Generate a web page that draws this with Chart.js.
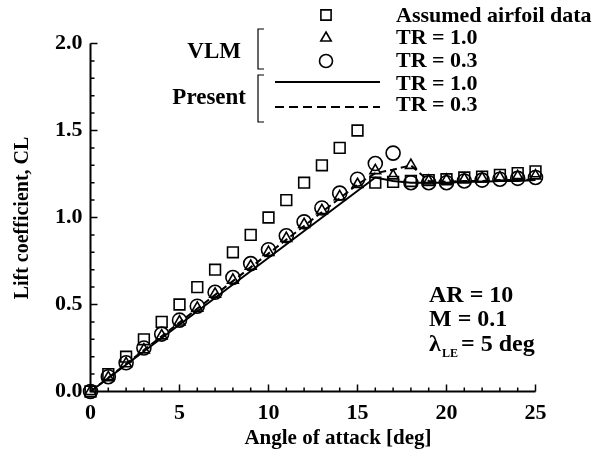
<!DOCTYPE html>
<html>
<head>
<meta charset="utf-8">
<script src="https://cdn.jsdelivr.net/npm/chart.js@4.4.1/dist/chart.umd.min.js"></script>
<style>
  html, body { margin: 0; padding: 0; background: #fff; }
  #wrap { width: 599px; height: 459px; }
</style>
</head>
<body>
<div id="wrap"><canvas id="cv" width="599" height="459"></canvas></div>
<script>
// angle of attack [deg] for the marker series
var alpha = [0, 1, 2, 3, 4, 5, 6, 7, 8, 9, 10, 11, 12, 13, 14, 15, 16, 17, 18, 19, 20, 21, 22, 23, 24, 25];
// assumed airfoil data (squares)
var clAirfoil = [0, 0.10, 0.20, 0.30, 0.40, 0.50, 0.60, 0.70, 0.80, 0.90, 1.00, 1.10, 1.20, 1.30, 1.40, 1.50,
                 1.20, 1.205, 1.21, 1.215, 1.22, 1.23, 1.235, 1.245, 1.255, 1.265];
// VLM, TR = 1.0 (triangles)
var clVlm10 = [0, 0.08, 0.16, 0.24, 0.32, 0.40, 0.48, 0.56, 0.64, 0.72, 0.80, 0.88, 0.96, 1.04, 1.12, 1.19,
               1.27, 1.24, 1.30, 1.21, 1.215, 1.22, 1.225, 1.23, 1.235, 1.24];
// VLM, TR = 0.3 (circles)
var clVlm03 = [0, 0.085, 0.165, 0.25, 0.33, 0.41, 0.49, 0.57, 0.655, 0.735, 0.815, 0.895, 0.975, 1.055, 1.14, 1.22,
               1.31, 1.37, 1.20, 1.20, 1.20, 1.21, 1.215, 1.22, 1.225, 1.23];
// present method, TR = 1.0 (solid line)
var alphaPres10 = [0, 16, 17, 18, 19, 20, 21, 22, 23, 24, 25];
var clPres10 = [0, 1.23, 1.21, 1.20, 1.20, 1.20, 1.205, 1.205, 1.21, 1.21, 1.215];
// present method, TR = 0.3 (dashed line)
var alphaPres03 = [0, 15, 16, 17, 18, 19, 20, 21, 22, 23, 24, 25];
var clPres03 = [0, 1.19, 1.255, 1.275, 1.30, 1.21, 1.205, 1.21, 1.21, 1.215, 1.215, 1.22];

var xTicks = [0, 5, 10, 15, 20, 25];
var yTicks = [0, 0.5, 1.0, 1.5, 2.0];

var FONT = '"Liberation Serif", "Times New Roman", serif';

function pts(xs, ys) {
  var out = [];
  for (var i = 0; i < xs.length; i++) out.push({x: xs[i], y: ys[i]});
  return out;
}

function hollow(ctx, style, r, x, y) {
  ctx.save();
  ctx.fillStyle = 'rgba(0,0,0,0)';
  ctx.strokeStyle = '#000';
  ctx.lineWidth = 1.6;
  Chart.helpers.drawPoint(ctx, {pointStyle: style, radius: r, borderWidth: 1.6}, x, y);
  ctx.restore();
}

var decorPlugin = {
  id: 'decor',
  afterDraw: function(chart) {
    var ctx = chart.ctx, xs = chart.scales.x, ys = chart.scales.y;
    var x0 = xs.getPixelForValue(0), x1 = xs.getPixelForValue(25);
    var y0 = ys.getPixelForValue(0), y1 = ys.getPixelForValue(2);
    ctx.save();
    ctx.strokeStyle = '#000';
    ctx.fillStyle = '#000';
    ctx.lineWidth = 2;
    ctx.beginPath();
    ctx.moveTo(x0, y1); ctx.lineTo(x0, y0); ctx.lineTo(x1, y0);
    ctx.stroke();
    // inward ticks
    ctx.lineWidth = 1.5;
    ctx.beginPath();
    for (var a = 0; a <= 25; a++) {
      var px = xs.getPixelForValue(a);
      var len = (a % 5 === 0) ? 7 : 4;
      ctx.moveTo(px, y0); ctx.lineTo(px, y0 - len);
    }
    for (var k = 0; k <= 20; k++) {
      var py = ys.getPixelForValue(k / 10);
      var ln = (k % 5 === 0) ? 7 : 4;
      ctx.moveTo(x0, py); ctx.lineTo(x0 + ln, py);
    }
    ctx.stroke();

    // axis titles
    ctx.font = 'bold 21px ' + FONT;
    ctx.textAlign = 'center';
    ctx.textBaseline = 'middle';
    ctx.fillText('Angle of attack [deg]', 338, 439);
    ctx.save();
    ctx.translate(23, 218);
    ctx.rotate(-Math.PI / 2);
    ctx.font = 'bold 20px ' + FONT;
    ctx.fillText('Lift coefficient, CL', 0, 0);
    ctx.restore();

    // legend
    var mx = 326;
    hollow(ctx, 'rect', 7.2, mx, 15);
    hollow(ctx, 'triangle', 6, mx, 38);
    hollow(ctx, 'circle', 6.5, mx, 61);
    ctx.lineWidth = 2.2;
    ctx.beginPath(); ctx.moveTo(275, 82); ctx.lineTo(380, 82); ctx.stroke();
    ctx.setLineDash([9, 5]);
    ctx.beginPath(); ctx.moveTo(275, 107); ctx.lineTo(380, 107); ctx.stroke();
    ctx.setLineDash([]);

    ctx.font = 'bold 22px ' + FONT;
    ctx.textAlign = 'left';
    ctx.fillText('Assumed airfoil data', 396, 16);
    ctx.fillText('TR = 1.0', 396, 38);
    ctx.fillText('TR = 0.3', 396, 61);
    ctx.fillText('TR = 1.0', 396, 84);
    ctx.fillText('TR = 0.3', 396, 105);
    ctx.font = 'bold 23px ' + FONT;
    ctx.textAlign = 'right';
    ctx.fillText('VLM', 241, 52);
    ctx.fillText('Present', 246, 98);

    // brackets
    ctx.lineWidth = 1.2;
    ctx.beginPath();
    ctx.moveTo(264, 29); ctx.lineTo(258, 29); ctx.lineTo(258, 69); ctx.lineTo(264, 69);
    ctx.moveTo(264, 75); ctx.lineTo(258, 75); ctx.lineTo(258, 122); ctx.lineTo(264, 122);
    ctx.stroke();

    // annotation
    ctx.font = 'bold 24px ' + FONT;
    ctx.textAlign = 'left';
    ctx.fillText('AR = 10', 429, 296);
    ctx.fillText('M = 0.1', 429, 320);
    ctx.fillText('\u03bb', 429, 345);
    ctx.font = 'bold 12px ' + FONT;
    ctx.fillText('LE', 442, 354);
    ctx.font = 'bold 24px ' + FONT;
    ctx.fillText('= 5 deg', 461, 345);
    ctx.restore();
  }
};

var marker = {
  borderColor: '#000',
  backgroundColor: 'rgba(0,0,0,0)',
  borderWidth: 1.6,
  showLine: false,
  clip: false
};

var chart = new Chart(document.getElementById('cv'), {
  type: 'scatter',
  data: {
    datasets: [
      {
        label: 'Present TR = 1.0',
        data: pts(alphaPres10, clPres10),
        showLine: true, borderColor: '#000', borderWidth: 2, pointRadius: 0, tension: 0, clip: false
      },
      {
        label: 'Present TR = 0.3',
        data: pts(alphaPres03, clPres03),
        showLine: true, borderColor: '#000', borderWidth: 2, borderDash: [7, 4], pointRadius: 0, tension: 0, clip: false
      },
      Object.assign({label: 'Assumed airfoil data', data: pts(alpha, clAirfoil), pointStyle: 'rect', pointRadius: 7.6}, marker),
      Object.assign({label: 'VLM TR = 1.0', data: pts(alpha, clVlm10), pointStyle: 'triangle', pointRadius: 6.2}, marker),
      Object.assign({label: 'VLM TR = 0.3', data: pts(alpha, clVlm03), pointStyle: 'circle', pointRadius: 7}, marker)
    ]
  },
  options: {
    responsive: false,
    animation: false,
    layout: { padding: { left: 0, right: 63.5, top: 43.5, bottom: 0 } },
    plugins: { legend: { display: false }, tooltip: { enabled: false } },
    elements: { point: { hoverRadius: 7 } },
    scales: {
      x: {
        type: 'linear', min: 0, max: 25,
        grid: { display: false, drawTicks: false },
        border: { display: false },
        afterBuildTicks: function(s) { s.ticks = xTicks.map(function(v) { return {value: v}; }); },
        afterFit: function(s) { s.height = 459 - 391.5; },
        ticks: {
          padding: 9, color: '#000', maxRotation: 0,
          font: { family: FONT, size: 22, weight: 'bold' },
          callback: function(v) { return String(v); }
        }
      },
      y: {
        type: 'linear', min: 0, max: 2,
        grid: { display: false, drawTicks: false },
        border: { display: false },
        afterBuildTicks: function(s) { s.ticks = yTicks.map(function(v) { return {value: v}; }); },
        afterFit: function(s) { s.width = 90.5; },
        ticks: {
          padding: 8, color: '#000',
          font: { family: FONT, size: 22, weight: 'bold' },
          callback: function(v) { return Number(v).toFixed(1); }
        }
      }
    }
  },
  plugins: [decorPlugin]
});
</script>
</body>
</html>
